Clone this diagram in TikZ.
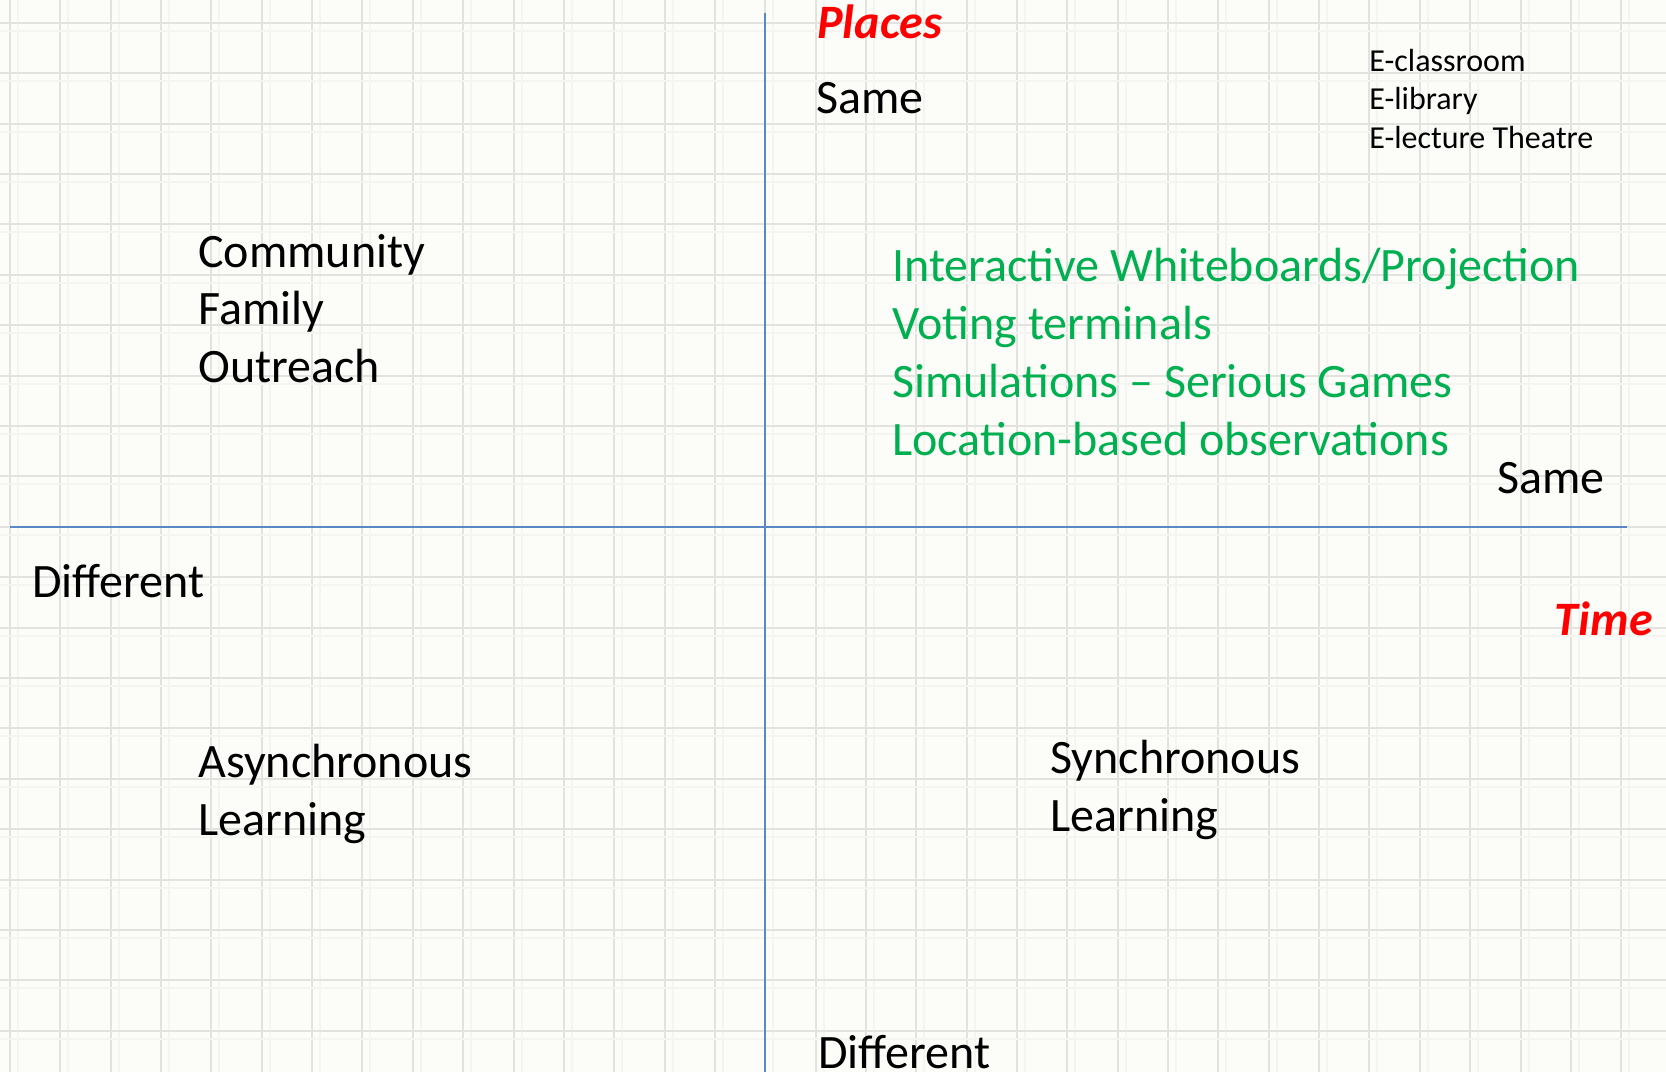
\documentclass[tikz,border=0pt]{standalone}
\usepackage{fontspec}
\setmainfont{Carlito}
\usetikzlibrary{positioning}

\definecolor{paper}{HTML}{FCFDF8}
\definecolor{gridline}{HTML}{E2E2DF}
\definecolor{gridghost}{HTML}{F4F4F0}
\definecolor{axisblue}{HTML}{5B87C5}
\definecolor{toolgreen}{HTML}{00B050}
\definecolor{titlered}{HTML}{FF0000}

\tikzset{
  quadrant/.style={draw=axisblue, line width=1pt},
  bigtext/.style={inner sep=0pt, align=left, font=\fontsize{24}{28.7}\selectfont},
  smalltext/.style={inner sep=0pt, align=left, font=\fontsize{16}{19.25}\selectfont},
  axistitle/.style={inner sep=0pt, text=titlered, font=\fontsize{24}{28}\selectfont\bfseries\itshape},
  tooltext/.style={bigtext, text=toolgreen, font=\fontsize{24}{28.9}\selectfont}
}

\begin{document}
\begin{tikzpicture}[x=0.5pt,y=-0.5pt]
    \useasboundingbox (0,0) rectangle (1666,1072);
    \fill[paper] (0,0) rectangle (1666,1072);

    % squared paper
    \foreach \i in {0,...,32} {
        \draw[gridghost, line width=1pt] ({18+\i*50.35},0) -- ++(0,1072);
        \draw[gridline, line width=1pt] ({10+\i*50.35},0) -- ++(0,1072);
    }
    \foreach \j in {0,...,20} {
        \draw[gridghost, line width=1pt] (0,{30.7+\j*50.4}) -- ++(1666,0);
        \draw[gridline, line width=1pt] (0,{22.7+\j*50.4}) -- ++(1666,0);
    }

    % axes
    \coordinate (placesTop) at (765,13);
    \coordinate (placesBottom) at (765,1072);
    \coordinate (timeLeft) at (10,527);
    \coordinate (timeRight) at (1627,527);
    \draw[quadrant] (placesTop) -- (placesBottom);
    \draw[quadrant] (timeLeft) -- (timeRight);

    % axis titles and ends
    \node[axistitle, anchor=base west] (places) at (817,38) {Places};
    \node[axistitle, anchor=base east] (time) at (1653,635) {Time};
    \node[bigtext, anchor=base west] (sameTop) at (816,113) {Same};
    \node[bigtext, anchor=base west] (diffBottom) at (818,1068) {Different};
    \node[bigtext, anchor=base east] (sameRight) at (1605,493) {Same};
    \node[bigtext, anchor=base west] (diffLeft) at (32,597) {Different};

    % quadrant contents (base = last line)
    \node[smalltext, anchor=base west] (rooms) at (1369,148)
        {E-classroom\\E-library\\E-lecture Theatre};
    \node[tooltext, anchor=base west] (tools) at (892,455)
        {Interactive Whiteboards/Projection\\Voting terminals\\Simulations – Serious Games\\Location-based observations};
    \node[bigtext, anchor=base west] (community) at (198,382)
        {Community\\Family\\Outreach};
    \node[bigtext, anchor=base west] (async) at (198,835)
        {Asynchronous\\Learning};
    \node[bigtext, anchor=base west] (sync) at (1050,831)
        {Synchronous\\Learning};
\end{tikzpicture}
\end{document}
